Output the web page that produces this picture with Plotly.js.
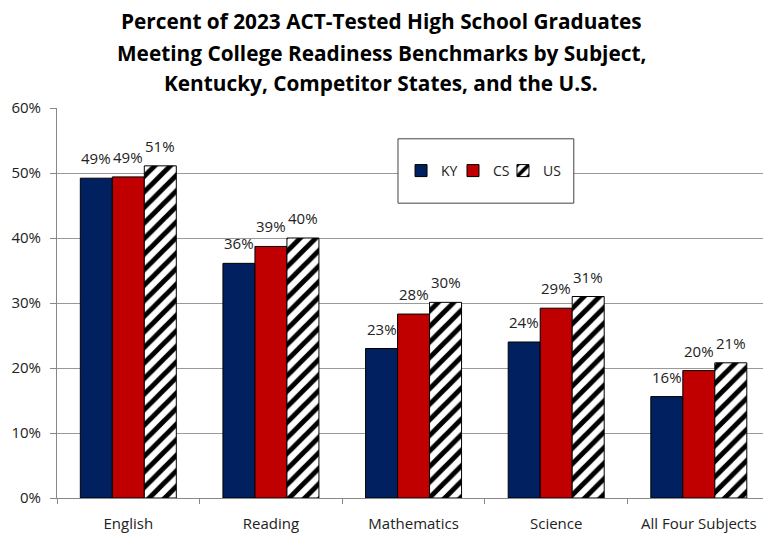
<!DOCTYPE html>
<html>
<head>
<meta charset="utf-8">
<script src="https://cdn.plot.ly/plotly-3.0.1.min.js"></script>
<style>html,body{margin:0;padding:0;background:#fff;}#chart{width:763px;height:534px;}</style>
</head>
<body>
<div id="chart"></div>
<script>
// ---- data ----
const categories = ["English", "Reading", "Mathematics", "Science", "All Four Subjects"];
const seriesNames = ["KY", "CS", "US"];
const kyValues = [49.2, 36.1, 23.0, 24.0, 15.6];
const csValues = [49.4, 38.7, 28.3, 29.2, 19.6];
const usValues = [51.1, 40.0, 30.1, 31.0, 20.8];
const yTickVals = [0, 10, 20, 30, 40, 50, 60];
const yTickText = yTickVals.map(v => v + '%');
const titleLines = [
  "Percent of 2023 ACT-Tested High School Graduates",
  "Meeting College Readiness Benchmarks by Subject,",
  "Kentucky, Competitor States, and the U.S."
];

const FONT = "'Open Sans', 'Noto Sans', sans-serif";
const BARGAP = 0.327;
const allSeries = [kyValues, csValues, usValues];

const traces = [
  {type: 'bar', name: seriesNames[0], x: categories, y: kyValues, legend: 'legend',
   marker: {color: '#002060', line: {color: '#000', width: 1}}, hoverinfo: 'none'},
  {type: 'bar', name: seriesNames[1], x: categories, y: csValues, legend: 'legend2',
   marker: {color: '#C00000', line: {color: '#000', width: 1}}, hoverinfo: 'none'},
  {type: 'bar', name: seriesNames[2], x: categories, y: usValues, legend: 'legend3',
   marker: {color: '#ffffff', line: {color: '#000', width: 1},
            pattern: {shape: '/', fgcolor: '#000', bgcolor: '#fff', size: 11, solidity: 0.45}},
   hoverinfo: 'none'}
];

// data labels above bars
const barW = (1 - BARGAP) / 3;
const annotations = [];
allSeries.forEach((vals, i) => {
  vals.forEach((v, j) => {
    annotations.push({
      x: j + (i - 1) * barW, y: v, xref: 'x', yref: 'y',
      text: Math.round(v) + '%', showarrow: false,
      yanchor: 'bottom', yshift: 8,
      font: {family: FONT, size: 15, color: '#222'}
    });
  });
});

// title lines (paper coordinates above the plot area)
const titleY = [1.224, 1.142, 1.065];
titleLines.forEach((t, k) => {
  annotations.push({
    xref: 'paper', yref: 'paper', x: 0.4596, y: titleY[k],
    xanchor: 'center', yanchor: 'middle', showarrow: false,
    text: '<b>' + t + '</b>',
    font: {family: FONT, size: 20.8, color: '#000'}
  });
});

function legendAt(xp) {
  return {
    orientation: 'h', x: xp, xanchor: 'left', y: 0.8385, yanchor: 'middle',
    bgcolor: 'rgba(0,0,0,0)', borderwidth: 0,
    font: {family: FONT, size: 14, color: '#222'},
    itemclick: false, itemdoubleclick: false
  };
}

const layout = {
  width: 763, height: 534,
  margin: {l: 57, r: 0, t: 108, b: 36},
  paper_bgcolor: '#fff', plot_bgcolor: '#fff',
  barmode: 'group', bargap: BARGAP, bargroupgap: 0,
  xaxis: {
    type: 'category', range: [-0.5, 4.45],
    showline: true, linecolor: '#888', linewidth: 1,
    ticks: 'outside', tickson: 'boundaries', ticklen: 5, tickcolor: '#888',
    ticklabelstandoff: 12,
    tickfont: {family: FONT, size: 15, color: '#222'},
    showgrid: false, zeroline: false
  },
  yaxis: {
    range: [0, 60], tickmode: 'array', tickvals: yTickVals, ticktext: yTickText,
    showline: true, linecolor: '#888', linewidth: 1,
    ticks: 'outside', ticklen: 6, tickcolor: '#888',
    ticklabelstandoff: 6,
    showgrid: true, gridcolor: '#999', gridwidth: 1,
    zeroline: false,
    tickfont: {family: FONT, size: 15, color: '#222'}
  },
  showlegend: true,
  legend: legendAt(0.4873),
  legend2: legendAt(0.5609),
  legend3: legendAt(0.6317),
  shapes: [{
    type: 'rect', xref: 'paper', yref: 'paper',
    x0: 0.483, x1: 0.732, y0: 0.756, y1: 0.921,
    line: {color: '#444', width: 1}, fillcolor: '#fff', layer: 'above'
  }],
  annotations: annotations
};

Plotly.newPlot('chart', traces, layout, {displayModeBar: false, staticPlot: true});
</script>
</body>
</html>
